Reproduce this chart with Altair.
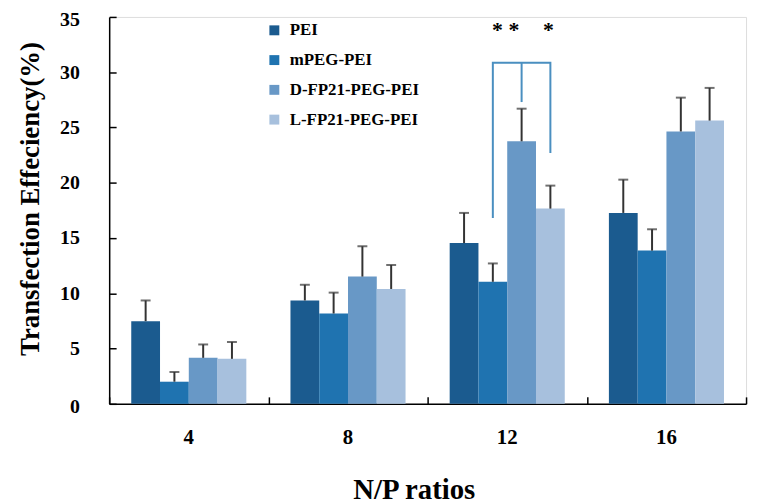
import altair as alt
import pandas as pd

RATIOS = ["4", "8", "12", "16"]
SERIES = ["PEI", "mPEG-PEI", "D-FP21-PEG-PEI", "L-FP21-PEG-PEI"]
COLORS = ["#1b5b8f", "#1f73b0", "#6898c6", "#a7c0dd"]

PEI = [7.48, 9.35, 14.54, 17.27]
PEI_ERR = [1.87, 1.42, 2.73, 3.01]
MPEG = [2.0, 8.17, 11.04, 13.86]
MPEG_ERR = [0.88, 1.89, 1.66, 1.93]
DFP = [4.16, 11.51, 23.75, 24.64]
DFP_ERR = [1.21, 2.74, 2.95, 3.06]
LFP = [4.07, 10.39, 17.66, 25.62]
LFP_ERR = [1.53, 2.17, 2.08, 2.96]

Y_TICKS = [0, 5, 10, 15, 20, 25, 30, 35]

# significance bracket at N/P 12
BR_RATIO = "12"
BR_SERIES = ["mPEG-PEI", "mPEG-PEI", "L-FP21-PEG-PEI", "L-FP21-PEG-PEI"]
BR_Y = [16.8, 30.85, 30.85, 22.7]
BR_MID_SERIES = "D-FP21-PEG-PEI"
BR_MID_Y = [27.3, 30.85]
STAR_A = "* *"
STAR_A_SERIES = "mPEG-PEI"
STAR_B = "*"
STAR_B_SERIES = "L-FP21-PEG-PEI"
STAR_Y = 33.8

rows = []
for s, vals, errs in zip(SERIES, [PEI, MPEG, DFP, LFP], [PEI_ERR, MPEG_ERR, DFP_ERR, LFP_ERR]):
    for r, v, e in zip(RATIOS, vals, errs):
        rows.append({"ratio": r, "series": s, "value": v, "hi": v + e})
df = pd.DataFrame(rows)

br = pd.DataFrame({"ratio": BR_RATIO, "series": BR_SERIES, "y": BR_Y, "o": list(range(len(BR_Y)))})
brm = pd.DataFrame({"ratio": [BR_RATIO], "series": [BR_MID_SERIES], "y": [BR_MID_Y[0]], "y2": [BR_MID_Y[1]]})
sta = pd.DataFrame({"ratio": [BR_RATIO], "series": [STAR_A_SERIES], "y": [STAR_Y], "t": [STAR_A]})
stb = pd.DataFrame({"ratio": [BR_RATIO], "series": [STAR_B_SERIES], "y": [STAR_Y], "t": [STAR_B]})

FONT = "Liberation Serif"

xscale = alt.Scale(domain=RATIOS, paddingInner=0, paddingOuter=0)
xoscale = alt.Scale(domain=SERIES, paddingInner=0, paddingOuter=0.767)
yscale = alt.Scale(domain=[0, 35], nice=False)

main_x_axis = alt.Axis(
    title="N/P ratios", titleFont=FONT, titleFontSize=29, titleFontWeight="bold",
    titleColor="black", titlePadding=28, titleX=307,
    labelFont=FONT, labelFontSize=21, labelFontWeight="bold", labelColor="black",
    labelAngle=0, labelPadding=23, ticks=False, tickSize=0,
    domainColor="black", domainWidth=1.5,
)
tick_x_axis = alt.Axis(
    title=None, orient="bottom", labels=False, domain=False, ticks=True,
    tickSize=7, tickWidth=1.5, tickColor="black", tickBand="extent", offset=-7,
)
main_y_axis = alt.Axis(
    title="Transfection Effeciency(%)", titleFont=FONT, titleFontSize=27,
    titleFontWeight="bold", titleColor="black", titlePadding=15, titleY=183,
    labelFont=FONT, labelFontSize=20, labelFontWeight="bold", labelColor="black",
    labelPadding=30, values=Y_TICKS, ticks=False, tickSize=0, grid=False,
    labelOffset={"condition": {"test": "datum.value == 35 || datum.value == 0", "value": 3}, "value": 0},
    domainColor="black", domainWidth=1.5,
)
tick_y_axis = alt.Axis(
    title=None, orient="left", labels=False, domain=False, ticks=True, values=Y_TICKS,
    tickSize=7, tickWidth=1.5, tickColor="black", offset=-7, grid=False,
)

def X(axis, field="ratio:N"):
    return alt.X(field, sort=RATIOS, scale=xscale, axis=axis)

def XO(field="series:N"):
    return alt.XOffset(field, sort=SERIES, scale=xoscale)

def Y(field, axis):
    return alt.Y(field, scale=yscale, axis=axis)

bars = alt.Chart(df).mark_bar().encode(
    x=X(main_x_axis), xOffset=XO(), y=Y("value:Q", main_y_axis),
    color=alt.Color("series:N", sort=SERIES, scale=alt.Scale(domain=SERIES, range=COLORS),
                    legend=alt.Legend(title=None, orient="none", legendX=158, legendY=5,
                                      symbolType="square", symbolSize=100, symbolStrokeWidth=0,
                                      labelFont=FONT, labelFontSize=17, labelFontWeight="bold",
                                      labelColor="black", labelOffset=7, rowPadding=12)),
)

err = alt.Chart(df).mark_rule(color="#333333", strokeWidth=2).encode(
    x=X(tick_x_axis), xOffset=XO(), y=Y("value:Q", tick_y_axis), y2="hi:Q",
)
caps = alt.Chart(df).mark_tick(color="#333333", thickness=2, size=10).encode(
    x=X(None), xOffset=XO(), y=Y("hi:Q", None),
)

bracket = alt.Chart(br).mark_line(color="#4a8fc0", strokeWidth=2).encode(
    x=X(None), xOffset=XO(), y=Y("y:Q", None), order="o:Q",
)
bracket_mid = alt.Chart(brm).mark_rule(color="#4a8fc0", strokeWidth=2, xOffset=-4).encode(
    x=X(None), xOffset=XO(), y=Y("y:Q", None), y2="y2:Q",
)
star_style = dict(font=FONT, fontSize=22, fontWeight="bold", color="black", baseline="middle")
stars_a = alt.Chart(sta).mark_text(dx=13, **star_style).encode(
    x=X(None), xOffset=XO(), y=Y("y:Q", None), text="t:N",
)
stars_b = alt.Chart(stb).mark_text(dx=-2, **star_style).encode(
    x=X(None), xOffset=XO(), y=Y("y:Q", None), text="t:N",
)

chart = alt.layer(bars, err, caps, bracket, bracket_mid, stars_a, stars_b).resolve_axis(
    x="independent", y="independent"
).properties(
    width=642, height=390,
    autosize=alt.AutoSizeParams(type="none"),
    padding={"left": 102, "top": 7, "right": 6, "bottom": 101},
).configure_view(stroke=None).configure(background="white")

chart.save("out.html", embed_options={"renderer": "svg", "actions": False})
